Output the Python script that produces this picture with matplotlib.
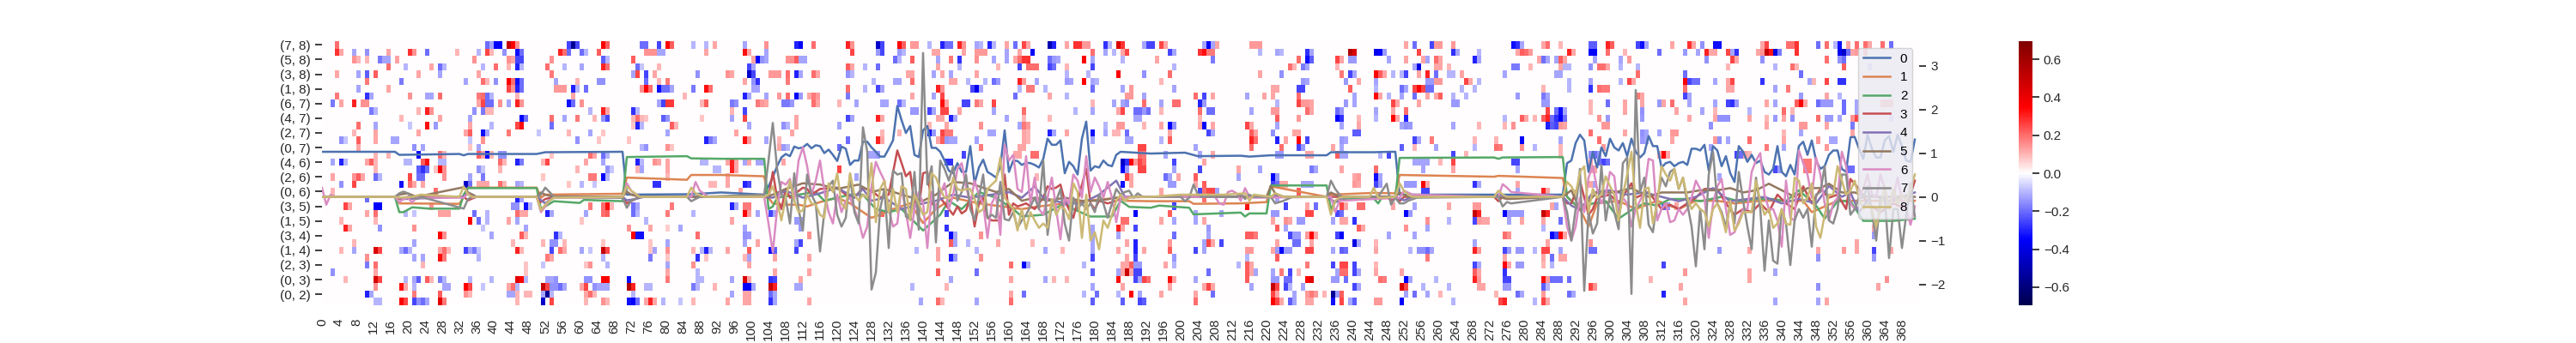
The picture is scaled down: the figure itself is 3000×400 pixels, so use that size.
import numpy as np
import matplotlib
matplotlib.use("Agg")
import matplotlib.pyplot as plt

plt.rcParams["font.family"] = ["Liberation Sans", "DejaVu Sans"]

row_labels = ["(7, 8)", "(5, 8)", "(3, 8)", "(1, 8)", "(6, 7)", "(4, 7)", "(2, 7)", "(0, 7)", "(4, 6)",
              "(2, 6)", "(0, 6)", "(3, 5)", "(1, 5)", "(3, 4)", "(1, 4)", "(2, 3)", "(0, 3)", "(0, 2)"]
n_rows = 36
n_cols = 372

# non zero cells of the heatmap, one dict per row: {column: value}
r00 = {3:.2,38:-.2,39:-.12,40:-.35,41:-.35,43:.5,44:.35,45:.15,57:-.25,58:-.55,59:-.25,65:.35,66:.22,74:-.2,75:-.2,78:-.25,80:.35,81:.22,86:-.1,89:-.1,91:.12,
       98:-.12,103:.15,110:-.3,111:-.35,114:.2,122:.3,123:.15,129:-.45,130:-.25,134:.35,135:.22,137:.14,138:.14,141:-.1,144:-.3,145:-.2,146:-.2,148:.3,149:.15,152:-.12,153:-.1,155:-.3,156:-.1,159:.12,161:-.2,163:.25,164:.12,169:-.5,170:-.3,173:.12,175:.28,176:.28,177:.14,178:.14,182:-.28,183:-.1,185:.45,186:.28,191:-.12,192:-.25,
       193:-.25,195:.25,196:.12,205:-.12,206:-.35,207:-.12,208:.12,216:.14,217:.14,218:.14,252:.12,254:-.2,258:-.25,259:.14,260:.14,263:.14,277:-.33,278:-.28,279:-.12,284:.12,285:.2,288:.1,
       295:-.22,296:-.22,299:.3,300:.22,306:-.25,307:-.33,308:-.12,314:.12,318:.28,319:.12,321:-.15,324:-.33,325:-.33,335:.12,336:.25,341:.2,342:.2,343:.28,348:-.2,350:.2,352:-.1,353:-.33,355:.12,357:.2,359:.2,360:.12,363:.2,365:-.2}
r01 = {3:.28,4:.12,7:-.12,10:-.15,15:.12,20:.28,21:.15,24:-.2,31:.1,36:-.1,38:.25,39:.1,42:-.15,45:-.33,46:-.2,55:.3,56:.2,57:-.2,60:-.2,61:-.1,64:.22,75:.15,76:.15,77:.15,78:-.12,79:-.12,89:.12,
       98:.33,99:.12,103:-.12,123:.25,129:-.14,130:-.25,134:-.14,135:-.1,142:.12,143:.12,149:.12,152:.14,153:.14,154:.14,159:-.12,162:.12,165:-.35,179:.2,182:-.12,184:-.1,186:.12,187:.25,
       197:-.25,198:-.12,204:.28,205:.33,206:.18,207:.18,218:-.1,222:-.12,223:-.1,229:-.28,230:-.12,239:.55,240:.45,245:-.38,246:-.35,247:-.14,255:.25,263:-.28,264:-.12,269:-.1,278:.12,279:.22,280:.2,281:.14,290:.3,291:.12,
       295:-.35,296:-.35,299:.2,303:.1,311:-.2,317:-.14,320:-.12,322:.3,323:.12,324:.12,327:.25,328:-.12,329:-.28,334:.12,335:.15,336:.5,337:.32,338:-.4,339:-.18,343:.28,353:-.38,354:-.45,355:-.2,356:.12,357:.14,359:.12}
r02 = {7:.15,8:.1,10:.1,13:-.18,14:-.12,15:-.12,17:.13,35:.15,43:.15,44:.12,45:-.25,46:-.25,53:.15,65:-.22,66:-.1,72:.22,
       100:.12,101:-.35,102:-.15,103:-.12,108:.15,109:.15,110:.22,111:-.12,112:-.12,133:-.2,134:-.1,137:.22,143:-.12,146:.18,148:-.28,152:.15,156:-.12,159:-.12,161:.12,162:.2,163:.28,164:.28,169:-.2,170:-.14,171:-.12,177:.35,179:-.12,186:-.1,
       194:.12,207:-.18,227:.2,229:-.33,230:-.22,236:.25,237:.12,239:-.14,240:-.14,248:-.12,252:.12,256:.12,257:-.12,259:.2,260:.12,268:-.3,269:-.12,283:.12,284:-.2,285:-.12,287:-.12,288:.22,289:.12,
       296:-.12,302:-.12,304:.14,322:-.15,328:.25,329:.12,335:-.15,350:.2,353:-.15,354:-.2}
r03 = {15:.2,19:-.1,25:.12,27:-.2,28:-.1,37:-.1,40:.2,43:.1,45:-.3,46:-.1,52:.2,56:-.1,60:-.12,65:.3,66:.2,73:-.2,74:-.08,78:.1,
       99:-.25,100:-.12,122:.22,123:.12,126:-.1,129:-.2,143:.12,148:-.1,157:.1,162:-.25,164:.2,165:.2,166:.2,169:-.25,170:-.2,173:.1,179:-.25,
       198:-.1,225:.2,226:.1,228:-.18,229:-.12,236:.1,254:-.12,255:-.4,259:.12,260:.12,262:.1,277:-.18,278:-.18,281:.1,288:.12,289:-.1,290:-.1,
       295:-.15,297:.2,298:.2,299:.12,302:-.1,306:-.1,327:.1,338:-.1,342:.2,343:.1,354:.22,360:-.06}
r04 = {3:.12,8:-.12,10:-.22,12:.22,22:.12,27:-.12,36:.12,53:.18,72:-.12,73:.25,75:-.25,77:.12,87:-.15,
       94:.15,95:.12,99:-.45,100:-.25,104:.14,105:.14,106:.14,108:.2,110:-.3,111:-.12,114:.2,115:.12,122:-.15,123:-.1,136:.12,137:.12,142:-.12,144:.12,146:-.12,152:.12,173:-.1,178:-.1,185:.35,191:-.15,
       197:.2,218:.12,223:-.15,237:.18,239:-.25,240:-.12,245:.35,246:.22,247:.12,249:-.1,251:-.1,252:-.25,255:.12,257:.3,259:-.2,262:-.1,263:-.1,265:.12,275:-.12,287:-.12,288:-.12,
       306:.2,317:-.2,344:-.2}
r05 = {10:.18,18:-.18,33:-.12,37:.2,38:.1,40:-.15,43:.35,44:.2,45:-.33,46:-.2,54:-.12,59:.1,64:-.15,65:-.15,75:-.2,78:.1,80:.18,
       98:.12,100:-.15,101:-.28,108:.18,128:-.1,133:-.12,134:-.12,137:.2,146:.12,147:.12,150:-.1,154:-.1,156:-.2,157:-.14,162:.3,163:.14,166:-.12,173:-.14,174:-.12,177:.35,179:-.12,180:-.1,
       195:.1,228:-.14,229:-.12,238:-.14,241:.12,245:-.12,257:-.14,258:-.14,259:.14,260:.14,266:.25,267:.12,269:-.1,290:-.1,
       295:-.12,302:-.1,304:.25,305:.12,317:.35,318:-.25,319:-.2,320:-.2,324:-.12,327:.12,328:.25,335:-.28,346:-.12,347:.1,350:.25,353:-.28,354:-.28}
r06 = {8:-.12,15:.12,43:.25,44:.15,45:-.3,46:-.2,54:.14,55:.14,56:.14,58:-.3,59:-.1,61:-.2,74:.15,75:.35,76:.2,78:-.33,79:-.2,80:-.2,81:-.12,86:-.18,89:.33,90:.2,
       100:-.12,101:-.12,122:.2,126:-.1,129:-.25,130:-.12,143:.3,144:.15,151:-.25,152:-.38,153:-.12,162:-.1,164:.18,165:.18,168:-.1,179:-.2,186:-.12,188:.14,
       198:-.12,221:.12,222:.12,227:-.25,228:-.25,239:.22,245:-.1,251:-.2,252:-.12,254:.25,255:.35,256:.25,257:-.2,258:-.2,265:-.1,268:-.1,284:.1,290:-.1,
       295:-.28,297:.2,298:.18,299:.18,317:.2,327:.12,328:.12,338:-.12,341:.18}
r07 = {3:.18,10:-.28,11:-.12,20:.15,24:-.12,25:-.12,27:.2,36:.18,37:.2,38:-.2,39:-.1,45:.1,58:.12,84:.1,
       98:-.3,99:-.12,103:-.12,106:.14,108:.2,110:-.35,111:-.14,113:.12,114:.18,115:.14,122:-.18,137:.12,142:-.12,144:.25,161:-.2,169:.12,173:-.1,187:.14,188:.14,191:-.12,
       203:.2,205:-.25,207:.12,215:-.12,219:.12,221:.12,227:.2,240:-.12,245:.35,246:.12,248:-.1,251:-.12,254:-.2,257:.12,259:.12,260:.22,263:-.1,266:-.1,278:-.14,284:-.18,285:-.12,
       306:.18,307:.12,317:-.25,318:-.12,344:-.14,350:.12,353:-.1}
r08 = {2:-.18,4:.12,7:.3,9:.15,10:.15,36:.12,37:.25,38:-.2,39:-.2,41:.15,43:-.12,45:.3,46:.15,57:-.33,58:-.2,60:.15,78:-.12,79:-.25,80:.27,81:.27,88:.1,89:.22,
       95:-.18,96:-.15,101:.18,102:.14,103:.12,107:-.18,108:-.18,109:-.14,114:.2,115:.12,120:.1,124:-.12,130:-.12,131:-.12,134:-.2,135:-.1,144:.33,145:.12,149:-.25,150:-.25,152:.18,153:.12,156:.25,179:.1,184:-.12,186:-.12,187:-.15,191:.2,
       195:-.12,198:.2,199:.2,204:-.3,205:-.14,222:-.1,227:.25,228:.14,229:.14,230:.12,238:-.14,240:-.12,249:.25,250:.12,255:.12,263:-.14,264:-.14,284:-.14,285:-.14,
       295:.1,299:-.2,303:.12,307:.12,311:-.14,312:.12,314:.2,318:-.12,324:-.12,327:-.25,328:-.28,329:-.14,336:.12,338:-.12,343:.22,344:.35,345:.12,348:-.2,349:-.14,350:-.14,351:-.14,354:-.2,357:-.12,363:.1,364:.1,365:.1}
r09 = {11:-.18,12:-.1,22:.1,24:.3,25:.15,35:-.15,37:-.18,38:.1,39:.1,62:-.1,65:.3,66:.12,72:-.28,73:-.1,
       95:.1,98:-.25,137:-.14,138:-.14,141:-.25,142:-.12,144:.25,145:.25,148:.12,156:-.12,163:.2,175:-.1,179:-.12,185:.12,186:.25,189:-.2,190:-.2,191:-.14,192:-.2,
       195:.1,204:.2,206:-.2,207:-.2,216:-.12,221:.14,222:.14,229:.2,230:.12,236:-.2,237:-.14,245:-.12,249:.12,252:.2,285:.25,287:-.2,288:-.33,289:-.12,
       295:.1,303:.12,307:-.15,315:.12,321:-.12,324:.1,332:-.1,340:.2,342:.1,354:-.2,357:-.12}
r10 = {18:.1,27:.12,34:-.12,46:-.35,47:-.2,53:.2,56:-.12,59:.18,63:.1,65:-.15,66:-.25,72:.1,73:.2,74:.1,75:.08,79:-.22,80:-.15,88:.08,
       95:-.12,98:.25,110:.12,122:-.25,123:-.12,129:.3,130:.12,143:.12,144:.12,146:-.3,147:-.12,159:-.12,163:.1,169:.1,189:-.12,190:-.12,
       204:.1,222:.22,227:.14,236:-.35,237:-.28,241:.1,245:-.1,249:.35,250:.12,252:-.3,275:-.1,279:.22,280:.12,282:.1,284:.22,285:.3,286:-.2,287:-.28,288:-.35,289:-.2,
       297:.15,299:-.14,307:-.14,318:.12,324:.12,325:-.15,326:-.15,327:-.15,332:.12,336:.1,338:-.14,340:.12,342:-.15,348:.2,350:-.14,351:-.14,353:-.12,356:.15,357:.25,365:-.06}
r11 = {8:.2,12:-.12,20:-.08,24:.33,26:-.14,34:.12,39:-.1,45:.25,46:.33,53:-.2,72:.08,73:-.3,74:-.1,81:.22,82:.1,
       99:-.12,107:-.15,108:-.1,110:.12,120:-.12,141:.1,145:.12,153:.15,162:-.12,163:.18,164:.14,182:-.1,185:.14,186:.14,191:.1,
       195:.12,197:-.35,198:-.15,204:.12,205:-.35,207:.12,215:.25,216:.12,222:-.12,237:-.12,241:.12,251:-.12,252:-.15,253:-.14,263:-.12,269:.1,275:.1,277:.15,285:-.3,286:-.22,287:-.25,288:.14,289:.12,
       298:.14,299:.14,323:-.15,336:.12,344:.14,345:.14,350:.12,356:-.18}
r12 = {7:.1,12:.12,22:.12,33:.12,34:.22,37:-.33,38:-.12,43:.18,50:-.08,57:.1,62:-.12,65:.08,80:-.12,
       96:.12,109:.12,130:.1,134:.1,141:-.33,142:-.14,144:.25,145:.18,146:.18,155:-.12,156:-.12,163:.12,164:.1,169:-.3,170:-.12,173:.12,179:-.33,182:-.12,184:.1,185:.1,187:-.2,
       197:.12,206:-.25,207:-.12,216:.22,217:.12,221:-.15,226:.12,227:.12,240:-.22,241:-.22,
       295:.2,303:.12,307:-.15,308:-.12,311:-.12,314:.14,315:.14,340:.1,344:-.12,356:.12}
r13 = {4:-.15,5:-.08,8:.22,12:.12,16:-.12,17:-.12,34:-.08,37:.15,59:-.15,64:.08,71:.08,89:-.3,90:-.18,91:-.12,
       98:.33,99:.14,103:-.12,106:.1,122:-.2,129:.3,130:.12,143:.12,144:.22,145:-.14,146:-.12,147:-.12,152:-.12,163:.12,164:.1,179:-.12,187:-.12,188:-.12,
       195:-.1,197:.22,216:.3,217:.2,222:-.3,224:.12,227:.35,229:-.25,237:-.14,238:-.12,254:-.25,255:-.12,258:.18,268:.1,273:.1,279:-.35,288:-.12,
       297:.2,307:-.14,308:-.12,314:.12,324:.14,325:-.15,327:-.12,332:.2,340:.12,348:.14,351:-.12,352:-.12}
r14 = {8:.12,21:-.15,23:-.12,34:.08,36:-.12,74:-.1,75:-.15,80:.15,81:.08,
       106:.12,107:-.14,108:-.1,120:-.2,153:.18,162:.12,163:.12,190:.25,191:.25,
       203:-.12,216:.2,223:.2,227:-.25,228:-.14,235:.12,237:-.12,251:-.22,254:.1,259:-.12,268:-.1,273:.2,274:.18,279:.15,282:-.1,288:.1,
       298:.14,323:-.12,336:.18,340:-.12,350:.14}
r15 = {12:.1,15:.1,22:-.35,27:.2,28:.1,36:.22,37:.12,38:-.35,39:.1,41:-.15,42:-.15,53:.08,62:.2,63:.12,65:-.2,66:-.1,
       127:-.12,128:-.12,129:-.14,149:-.25,161:.12,162:.12,165:.2,166:.2,190:.2,191:.18,
       196:-.12,204:-.12,207:.12,222:-.14,223:-.14,229:.12,230:.12,236:.22,237:-.12,238:-.12,246:-.1,248:-.25,263:-.25,266:.1,288:.1,
       295:-.15,296:-.2,297:-.14,311:.12,312:.35,313:.12,329:-.25,330:-.2,331:.12,332:.1}
r16 = {2:-.12,4:-.3,5:-.1,10:.12,11:.22,12:.1,19:-.1,20:-.1,23:.22,24:.33,27:-.1,28:-.1,41:.2,42:.1,45:-.3,46:-.18,51:.1,52:.25,61:.12,65:-.12,73:-.3,74:-.1,77:.15,78:.12,80:.12,88:-.1,89:-.1,
       94:.12,95:.3,96:.12,98:-.12,99:.12,101:-.12,102:-.12,107:.12,145:-.28,146:-.28,186:-.45,187:-.28,188:.35,189:.14,190:.25,191:.2,
       198:-.25,205:.12,254:-.12,255:-.12,256:-.12,257:-.12,260:.1,263:.25,277:-.25,278:-.25,
       295:.12,297:-.2,298:-.25,299:-.2,345:.18,346:.18}
r17 = {12:.1,22:-.22,23:-.28,24:-.2,26:.08,27:.35,28:.15,36:-.15,37:-.08,41:.1,59:.1,66:-.15,67:-.08,73:.1,74:-.12,80:.12,91:-.1,92:-.1,
       95:.3,96:.12,120:.25,186:-.35,187:-.14,190:.25,191:.25,
       198:-.12,204:-.25,213:.12,218:-.12,230:-.18,231:-.12,237:.12,245:.2,256:-.12,263:.12,278:-.12,
       295:.12,296:.12,338:-.25,339:-.14,345:.18,346:.18,355:-.2,356:-.2}
r18 = {2:.12,7:.15,8:.22,9:.12,12:-.2,13:-.1,20:.25,22:-.2,23:-.2,28:.15,34:-.12,37:-.18,51:.08,62:.18,63:.18,65:-.35,66:-.1,80:.1,
       94:.12,124:-.12,166:.1,187:.25,188:.12,
       196:-.2,197:-.12,199:.12,203:.22,213:-.12,221:-.35,222:-.14,240:.12,241:.14,245:-.33,246:-.12,
       325:-.12}
r19 = {4:-.15,7:.25,18:-.33,20:.2,21:.12,23:.12,33:-.45,34:-.2,36:.12,37:.12,38:.12,41:.2,42:.1,45:-.12,46:-.1,57:.08,60:-.1,63:-.08,77:-.28,78:-.28,90:.1,91:.1,
       94:.12,98:-.3,99:-.25,186:-.33,188:.12,
       197:-.14,198:-.14,203:.12,205:.22,221:-.25,222:-.2,223:.12,224:.12,228:-.12,229:-.12,230:-.12,240:.14,241:.12,245:-.25,246:-.14,252:-.14,253:-.14,254:-.14,256:.35,257:.12,268:-.28,269:-.12,278:.12,
       295:.12,296:-.12}
r20 = {2:.1,26:.2,97:.12,195:.12,204:-.25,205:.2,206:.25,207:.25,208:-.12,227:.22,256:-.25,257:-.25,278:-.12,284:.3,285:.12}
r21 = {10:-.2,45:-.3,46:-.12,205:.2,222:-.12}
r22 = {5:.25,6:.12,12:-.35,13:-.35,25:.15,44:-.15,45:-.15,47:-.33,48:-.1,62:.18,65:.2,66:.33,67:.1,72:-.2,73:-.12,81:.18,
       95:-.3,96:-.12,98:.18,99:.18,
       198:-.25,215:.33,224:-.25,229:.12,231:-.2,237:.25,238:.12,241:.2,242:.2,249:.12,254:-.12,262:.12,268:.14,269:.14,286:.12,287:-.12,
       312:-.22,313:-.14,315:.12}
r23 = {10:.12,12:.2,19:-.1,21:-.08,27:.13,28:.13,29:.13,35:-.2,38:-.1,45:.2,46:.12,47:.12,52:-.3,53:-.12,61:-.12,65:.2,66:.22,72:-.2,73:-.1,80:.18,86:-.1,
       98:.35,99:.14,101:-.12,104:-.25,105:-.12,130:.22,145:-.25,189:-.35,
       197:.22,203:-.12,209:-.12,221:-.14,222:-.14,229:.25,230:.25,236:-.25,237:-.2,252:-.35,253:-.14,268:.5,269:.3,275:-.35,276:-.14,277:-.14,278:-.14,279:-.14,284:.5,285:.3}
r24 = {4:.1,12:.1,34:.35,36:-.2,38:-.1,43:.12,45:-.12,60:.08,75:-.1,
       95:.12,110:-.14,111:-.14,186:.2,187:.2,
       195:.12,198:-.12,203:-.12,205:.12,221:.12,224:.15,225:.12,227:-.14,228:-.14,235:-.12,237:.12,238:.12,240:-.28,257:.15,262:-.1,268:-.25,269:.14,270:.12,271:.12,276:-.12,279:.12,284:.12,288:-.2}
r25 = {5:.3,6:.12,13:-.15,21:.15,37:-.08,47:-.12,71:.15,76:.12,80:.07,83:-.12,
       98:-.12,111:-.14,145:-.28,179:-.12,185:.3,186:.12,189:-.25,
       206:-.14,222:.22,224:-.12,241:.22,242:.12,252:.15,257:-.12,284:-.1,361:.12}
r26 = {27:.35,28:.15,39:-.12,46:.22,47:.1,54:-.28,55:-.1,72:.35,73:-.33,74:-.33,87:.2,
       98:-.15,99:-.14,113:.15,146:-.35,147:-.12,153:.15,179:-.12,185:-.12,
       198:-.2,206:-.12,215:.22,216:.22,217:.18,225:-.25,226:-.14,227:-.14,229:.14,230:.35,231:.12,236:-.25,237:-.35,248:-.12,254:-.12,275:.2,276:.15,286:-.35,287:-.25,288:.35,289:.12,361:-.14}
r27 = {7:.1,21:-.12,44:.1,51:.1,53:-.15,54:-.15,56:.1,65:.08,76:.08,80:-.12,
       98:-.12,101:.12,110:-.12,111:-.25,146:.22,147:-.12,150:-.1,157:.12,165:.1,179:-.12,187:.12,189:-.3,
       197:.14,205:-.12,206:.25,207:.12,209:-.25,222:.12,226:-.2,227:-.2,230:.12,240:-.4,241:-.12,245:.1,268:-.12,285:.12,
       295:.15,357:.12}
r28 = {4:.1,7:-.12,12:.45,13:.25,18:-.12,19:-.2,20:-.1,27:.12,28:.2,29:.1,33:-.25,34:-.12,35:-.18,36:-.08,45:.3,46:.1,53:-.25,55:.2,56:.12,60:-.12,62:-.08,65:.5,66:.25,76:.08,77:-.12,80:.15,86:.1,88:-.1,89:-.3,90:-.1,
       94:.12,99:.22,104:-.33,105:-.22,110:-.25,138:-.1,143:.12,152:-.1,168:-.12,172:.1,179:-.12,185:.12,189:-.3,191:.12,
       197:.22,203:-.25,205:-.12,215:.14,216:.14,221:.12,222:-.14,223:-.35,224:-.14,225:-.14,229:.25,230:.25,235:-.12,237:-.22,238:-.2,245:.12,253:-.1,255:-.15,256:-.15,257:-.2,258:-.12,268:.3,269:.14,275:-.25,276:-.14,278:-.14,279:-.14,282:-.1,284:.25,285:.25,288:-.12,
       295:-.2,296:-.2,325:-.14,332:.12,348:.12,354:.14,357:.12,361:-.25,365:.12}
r29 = {10:.15,21:-.12,23:-.12,27:.33,28:.18,36:-.1,52:.18,53:.12,65:-.1,76:-.18,80:.08,87:-.28,89:.08,
       98:.1,99:-.12,105:.12,113:.12,143:.12,146:-.3,147:-.14,153:.15,179:-.25,187:.12,189:-.25,
       198:-.14,215:-.1,222:.22,257:.18,275:.12,284:.12,286:-.2,288:.12,289:.12,348:-.15,361:-.14}
r30 = {10:-.18,12:.2,23:.1,47:.08,51:-.08,61:.08,62:.15,66:-.1,80:-.12,86:.15,
       99:.12,160:.2,163:-.35,164:-.12,177:-.1,186:.12,187:.12,188:.22,189:-.14,190:-.14,
       196:.12,198:-.1,213:-.1,215:.22,216:.12,229:.18,235:-.25,237:.25,238:.25,240:-.25,245:.1,268:-.25,269:-.12,275:.35,276:.12,278:-.14,279:-.14,284:.1,286:-.1,
       312:-.25}
r31 = {2:-.15,12:.12,47:.08,80:.12,87:-.1,
       105:.12,113:.12,143:.22,152:-.2,179:-.22,185:-.12,186:.12,187:.48,188:.12,189:-.25,190:-.25,
       206:-.2,215:.22,216:.12,217:-.12,221:-.12,223:.18,225:-.25,227:.1,236:-.12,237:.2,238:.2,240:-.25,241:-.12,245:.12,251:.12,268:.22,269:.12,275:-.28,
       317:.14,332:.12,338:-.12}
r32 = {5:.1,12:.45,13:.25,19:-.1,21:-.12,22:-.22,24:.22,25:.1,27:-.18,28:-.1,34:-.1,39:-.1,45:.42,46:.35,47:-.1,52:-.12,53:-.12,54:-.15,61:-.15,62:-.15,65:.35,66:.35,71:-.33,80:.18,87:-.1,88:-.1,
       95:-.12,98:.45,99:.12,104:-.28,105:-.25,111:.12,146:-.12,160:.12,168:-.12,170:.1,173:.1,185:.33,189:-.25,190:-.12,191:.25,192:.2,
       197:.33,198:.12,203:-.12,215:.22,221:-.14,222:-.14,224:-.2,225:-.2,229:.35,230:.42,235:-.14,236:-.14,238:-.2,246:.2,247:.18,252:-.35,253:-.12,259:-.1,268:.3,269:.14,275:-.25,276:-.25,284:.33,285:.14,286:-.2,287:-.2,288:-.2,290:-.2,
       309:.1,332:.12,364:.15}
r33 = {12:.15,18:.33,19:.12,21:-.1,28:-.12,29:-.12,33:.35,34:.25,37:-.08,43:.12,44:.2,45:-.1,51:.5,52:.25,53:-.15,54:-.15,55:-.2,56:-.12,60:.12,61:.25,63:-.15,64:-.12,65:-.12,66:-.12,71:.55,72:.3,75:-.1,76:-.1,86:-.18,87:-.1,91:.1,
       98:-.35,99:-.35,100:-.12,104:.5,105:.3,110:-.12,111:-.12,137:-.1,145:.1,179:-.12,186:.12,
       197:.12,205:.12,206:.25,207:.12,216:-.12,221:.5,222:.25,224:-.25,225:-.1,228:-.12,240:-.25,241:-.12,251:.45,252:.25,256:-.1,262:-.1,269:.12,270:.12,275:-.14,276:-.14,284:-.22,285:-.1,
       295:.25,296:.15,316:.12,348:-.15,362:.12}
r34 = {10:-.3,11:-.12,21:.18,27:.22,33:.15,34:.1,43:-.12,44:-.12,45:.1,47:.1,48:.1,51:-.12,52:-.55,53:-.1,61:.12,62:.2,63:.1,72:-.1,
       95:-.12,98:.12,99:.12,104:-.2,105:-.12,160:.12,163:-.2,177:-.1,180:-.2,185:-.1,188:.35,190:-.12,
       195:.12,203:.12,207:-.2,221:.25,222:.12,226:-.12,229:.14,230:.18,231:.14,233:.1,235:-.55,236:-.14,237:.22,252:-.12,254:-.2,257:-.12,260:.1,273:.1,278:-.2,279:-.12,284:.14,290:-.2,291:-.12,
       312:-.3}
r35 = {12:-.1,13:-.1,18:.35,19:.25,21:-.25,22:-.15,23:-.2,24:-.12,27:.42,28:.18,45:.1,51:-.45,53:.25,61:.1,65:.15,66:.1,71:-.33,72:-.35,73:-.2,75:.12,76:.3,77:.12,79:-.1,83:-.08,86:.1,
       94:.12,98:.12,99:.12,104:-.28,105:-.12,113:.12,139:-.12,143:.2,144:.1,152:-.12,160:.2,179:-.22,186:-.22,190:-.25,191:-.22,
       203:.2,221:.35,222:.25,223:.12,225:-.22,226:-.12,229:.12,230:.12,235:-.33,237:.25,239:-.12,240:-.22,245:.14,246:.14,251:-.35,263:-.1,274:.25,275:.3,282:-.1,284:.25,285:.12,
       317:.12,338:-.12,348:-.12,350:.12}

# line series: sparse knots in the calm parts, every column in the busy parts
line0_x = [0,17,18,32,33,34,50,52,70,71,86,93,103] + list(range(104,187)) + [193,201,204,214,216,221,234,235,245,249,250,251,289,290,291,292] + list(range(293,372))
line0_y = [1.03,1.03,.96,.98,.95,.98,.98,1.02,1.03,.05,.06,.1,.05,
           .24,.45,.7,.9,.98,.93,1.15,1.11,1.13,1.21,1.11,1.18,1.16,1.0,1.08,.96,.82,1.15,1.1,.73,.83,.83,1.26,1.26,1.13,1.03,.92,.92,1.1,1.29,2.08,1.75,1.46,1.62,.96,.91,1.52,1.62,1.12,1.12,1.03,.83,.6,.54,.77,.57,.57,1.16,.31,.67,.85,.57,.51,.44,.7,1.52,.57,.83,.82,.73,.78,.77,.73,.67,.87,1.33,1.19,1.19,1.29,.54,.8,.7,.51,1.33,1.72,.6,.7,.67,.83,.73,.7,.96,1.03,
           .99,1.01,.93,.94,.92,.95,.95,1.02,1.02,1.03,1.03,.05,.05,.77,.83,1.23,
           1.42,1.29,.57,1.03,.67,1.13,.93,1.33,1.13,1.06,1.23,.93,1.33,1.03,.9,1,1.39,1.16,1.16,.67,.77,.8,.7,.77,.8,.73,1.1,1.1,1.06,1.19,.6,1.16,1.06,.7,.93,.54,.34,1.16,1.03,.8,.96,.77,.83,.57,.51,.64,1.16,.57,.47,.73,.51,1.16,1.26,.96,1.29,.83,.64,.7,.96,1.06,1.06,.64,.57,1.36,1.37,1.1,.87,1.42,1.1,.9,.9,1.29,1.39,1.03,1.42,1.16,.83,.8,1.31]
line1_x = [0,17,18,32,33,34,50,51,52,70,71,85,86,93,103,104,105,107,111,113,116,120,123,128,130,133,137,140,143,147,153,163,167,173,178,186,187,193,202,203,214,220,221,234,235,245,250,251,273,274,289,290,293,295,297,302,306,311,316,320,325,329,335,339,345,347,353,371]
line1_y = [0,0,-.15,-.16,0,.21,.21,-.02,.05,.07,.44,.39,.5,.5,.47,-.02,-.15,-.18,-.18,-.22,-.12,-.02,-.15,-.48,-.41,-.28,-.15,-.6,-.28,-.02,-.15,-.28,-.22,-.15,-.09,-.02,-.09,-.1,-.1,-.16,-.15,-.12,.24,0,.05,.09,.08,.5,.46,.48,.43,0,-.28,-.68,-.15,-.09,-.28,-.09,-.28,-.09,-.09,-.15,-.09,-.09,-.09,-.35,-.09,-.09]
line2_x = [0,17,18,19,21,25,32,33,34,50,51,52,54,60,61,70,71,85,86,93,103,104,105,106,111,115,117,123,126,129,132,135,140,144,146,149,153,157,161,163,168,173,175,179,184,186,188,193,195,202,203,214,215,216,220,221,234,235,236,239,245,246,247,250,251,273,274,275,289,290,293,296,299,302,305,308,311,314,318,321,326,330,334,338,341,344,348,350,353,356,359,362,366,371]
line2_y = [0,0,-.35,-.35,-.24,-.27,-.27,.05,.2,.2,-.28,-.22,-.1,-.14,-.07,-.1,.91,.93,.88,.87,.87,-.28,-.22,-.02,.05,.11,-.09,.05,.05,-.28,-.35,-.28,-.77,-.41,-.09,-.28,.11,-.02,-.28,-.45,-.41,-.15,-.28,-.45,-.45,-.09,-.23,-.25,-.2,-.25,-.4,-.36,-.45,-.38,-.38,.26,.26,-.28,-.12,-.04,-.04,-.15,0,-.02,.89,.9,.87,.9,.91,0,-.28,-.15,-.1,-.5,-.3,-.15,-.2,-.05,-.05,-.1,0,-.1,-.05,-.05,-.1,.15,-.2,-.5,-.1,-.1,-.55,-.55,-.55,-.5]
line3_x = [0,17,18,20,33,34,36,50,51,52,54,70,71,72,74,103,104,105,106,107,108,109,112,113,114,116,120,122,124,126,128,130,132,134,135,136,137,138,139,140,141,142,143,144,145,146,147,148,149,150,151,152,153,154,155,156,158,159,160,161,162,164,166,168,169,170,171,172,173,175,176,178,179,180,181,183,185,187,193,248,249,250,251,252,273,274,275,289,290,291,293,294,295,296,297,300,302,305,306,309,311,312,314,316,318,320,322,325,327,329,331,333,335,337,339,341,343,345,347,349,351,353,355,356,358,360,363,366,369,371]
line3_y = [0,0,-.05,0,0,-.08,0,0,-.12,-.05,0,0,-.15,-.1,0,0,-.02,.57,-.02,-.28,.18,-.02,.21,.18,.05,.18,.21,.05,-.02,.21,.14,-.02,.05,1.06,.77,.47,.57,-.15,-.28,.54,.57,-.15,-.22,-.02,-.15,-.28,-.41,-.22,-.38,-.31,-.02,-.68,-.15,-.02,-.48,-.54,-.54,.51,-.41,-.15,-.22,-.15,-.28,-.02,.24,.18,.21,.28,-.09,-.48,-.09,.64,-.15,-.28,-.09,-.15,-.09,0,0,0,-.08,-.02,-.1,0,0,-.1,0,0,-.15,-.15,.37,-.02,-.41,-.28,-.02,.05,-.15,.31,-.02,.11,-.15,-.28,-.18,-.28,-.15,-.02,.18,.18,-.15,-.41,-.28,-.35,-.15,-.35,.05,-.15,-.28,.24,-.15,.18,-.02,.05,-.28,.41,.18,-.15,-.35,-.15,-.28,.37]
line4_x = [0,17,19,33,34,36,50,52,54,70,71,73,75,103,105,108,112,116,120,124,126,128,131,135,140,143,147,151,156,160,163,166,168,173,177,181,185,187,193,221,222,224,234,236,238,250,252,254,289,291,293,296,300,304,308,312,316,320,324,328,332,336,340,344,348,351,354,356,358,361,365,371]
line4_y = [0,0,-.05,0,.1,0,0,-.15,0,0,-.08,-.05,0,0,-.02,.14,-.02,.08,.21,-.02,.18,-.09,-.02,-.28,-.15,-.09,.05,-.02,.05,.11,-.02,.24,-.02,-.15,-.15,.05,.37,0,0,0,.05,0,0,-.12,0,0,-.08,0,0,-.2,-.3,.1,.15,.05,.1,0,-.1,0,.2,-.1,-.05,0,-.15,-.05,-.15,.25,0,.1,-.35,.05,-.1,.1]
line5_x = [0,17,18,20,22,33,34,36,50,51,52,54,70,71,72,74,103,105,108,112,116,120,125,128,131,135,140,143,147,151,153,157,160,163,166,169,173,177,181,185,193,220,221,222,224,234,235,237,250,251,253,274,276,289,291,293,297,301,305,309,312,315,318,321,325,328,331,334,337,340,343,346,349,351,354,357,360,365,371]
line5_y = [0,0,.05,.08,0,.22,.1,0,0,.1,.05,0,0,.12,.05,0,0,.05,.18,.31,.28,.18,.28,.11,.18,.05,-.09,.05,.34,.31,.24,.11,.18,-.09,-.02,-.09,-.02,-.09,-.09,-.02,0,0,.25,.08,0,0,.1,0,0,.1,0,0,-.05,0,.15,-.3,.1,.1,.2,0,.1,.1,.1,.15,.15,.2,.1,.15,.3,.15,0,.2,.2,.3,.1,.1,0,0,0]
line6_x = [0,1,2,3,17,18,19,20,21,22,33,34,35,36,50,51,52,53,54,70,71,72,74,86,87,88,90,103] + list(range(104,188)) + [193,208,209,210,211,212,213,214,215,216,217,235,236,237,251,252,254,273,274,275,276,277,289] + list(range(290,372))
line6_y = [.21,-.18,.05,0,0,-.12,-.05,-.02,-.13,-.02,-.02,.08,-.02,0,0,-.35,-.22,-.09,-.02,-.02,.31,.14,0,0,.34,.14,0,0,
           -.61,-1.27,-.28,.34,.28,.41,-.09,.83,1.13,.7,.05,.37,.83,.14,-.35,-.61,.05,-.35,-.09,-.02,-.28,-.54,-.94,-.68,.24,.8,.57,.37,-.28,-.68,-.61,.24,-.35,-.94,-.28,.11,-.15,-1.17,.11,-.28,.05,.31,-.28,.05,.64,.77,.24,-.15,.37,.05,-.15,-.94,-.15,.05,-.87,1.19,.83,.96,.18,.11,.93,-.15,.44,-.28,-.41,-.02,.44,-.28,-.97,-.02,-.15,.51,.37,-.02,.93,.11,.44,.24,-.02,.34,-.02,-.58,-.02,0,
           0,0,-.15,-.18,.11,.14,.08,-.09,.2,0,-.02,0,-.35,-.09,-.02,.14,.05,0,0,.29,.21,.11,0,
           -.68,-1,-.68,-.02,-.35,.44,.7,.18,-.15,.05,.57,.47,-.41,-.02,-.15,-.68,-.28,-.09,.11,.87,.83,-.54,-.28,-.15,-.58,-.54,-.28,-.41,-.28,-.02,.37,.18,-.02,-.94,-.15,.24,.41,-.28,-.87,-.81,-.54,-.28,-.28,.57,.83,1,.05,-.28,-.28,-.54,-1.14,.37,-.48,-.54,1.06,.77,.51,-.02,.9,.51,-.15,-.54,-.15,-.02,1.03,.7,-.15,-.28,-.02,.18,.51,.05,-.02,.51,.18,-.28,-.02,.44,-.09,-.28,-.64,-.22]
line7_x = [0,17,18,19,20,21,22,23,33,34,35,36,50,51,52,53,54,70,71,72,74,85,86,87,88,103] + list(range(104,193)) + [193,200,201,202,203,204,205,213,214,215,216,217,221,222,224,226,234,235,236,237,238,239,245,246,248,249,250,251,252,253,255,273,274,275,276,277,289] + list(range(290,372))
line7_y = [0,0,.08,.12,.08,-.02,-.05,0,-.27,-.05,0,0,0,.05,.21,.11,0,-.02,-.25,-.09,0,0,-.1,-.05,0,.05,
           .83,1.69,.64,.05,-.02,-.61,.54,-.28,-.77,.51,.05,-.15,-1.25,-.35,.24,.37,-.41,-.68,-.48,.51,-.35,-.61,1.59,1.03,-2.12,-1.73,-.28,.18,-1.17,.6,.51,.54,-.45,-.51,.57,-.75,3.29,.28,.7,-1.04,.83,.64,.37,.7,-.09,.11,.51,-.28,-.54,-.02,.51,-.48,-.41,-.48,.34,-.51,-.54,-.35,-.71,-.54,-.41,-.22,-.02,-.28,.83,-.87,-.15,-.09,.18,-.61,-1.0,-.02,-.28,-.15,-.28,-.15,-.35,.05,-.15,-.48,-.15,.18,.05,.11,.14,-.02,.08,.01,0,
           0,0,-.1,-.02,.28,.05,0,0,.05,-.05,.05,0,0,-.15,-.09,0,0,.37,.18,.05,-.05,0,0,0,.3,-.18,-.02,-.15,-.15,-.09,-.02,0,0,-.22,-.12,-.15,0,
           -.35,-1,-.28,.64,-2.15,-.35,-.84,-.61,.73,-.54,.05,-.35,-.74,.77,.9,-2.22,2.44,.11,.44,-.64,-.81,-.05,.44,.24,.57,.64,.18,.44,-.15,-.68,-1.59,-.28,-1.2,.51,1.03,-.15,-.35,-.68,-.18,-.61,.57,-.09,-.68,-1.2,.44,-.28,-1.69,-.54,-1.46,-1.53,-.28,-.61,-1.56,-.54,-.28,-.48,-.28,-1.14,.05,.11,.7,-.54,-.61,-.28,.51,.51,-.41,-.28,-.02,-.02,.24,-.35,-1,-.02,-.02,-1.4,-.28,-.28,-1.17,-.41,.31,-.45]
line8_x = [0,17,18,21,23,32,33,34,35,50,51,52,53,54,70,71,72,74,85,86,87,89,103] + list(range(104,190)) + [193,200,210,215,216,217,221,222,224,234,235,236,237,238,244,245,246,247,250,251,252,253,254,273,274,275,276,289] + list(range(290,372))
line8_y = [0,0,-.02,0,.05,0,.24,.05,0,0,-.31,-.18,-.09,-.02,0,.24,.14,0,0,.21,.08,0,0,
           .05,.24,-.09,-.54,-.02,.37,-.09,-.35,-.31,.05,-.15,-.18,-.41,-.48,.31,.11,.54,-.15,-.28,.54,.05,-.09,.05,-.02,.77,-.58,.18,.37,-.35,.18,-.35,.24,.18,-.54,.05,-.15,-.41,-.35,.54,.44,.18,-.02,-.02,.44,.18,.14,.18,.18,-.05,-.35,-.28,.18,.28,.37,.9,-.02,-.15,-.28,-.77,-.28,-.74,-.35,-.54,-.71,-.61,-.71,-.05,-.41,-.22,-.28,-.51,.31,.11,-.94,.05,-1.0,-.81,-1.2,-.54,-.71,-.41,-.09,.05,-.09,-.02,0,
           0,.05,.05,.08,-.09,.05,0,.08,0,0,-.41,-.09,-.02,0,0,.21,-.02,-.02,0,.31,.14,.05,0,0,.14,.05,0,0,
           .34,.24,.05,.57,.7,-.35,.18,-.02,.05,.47,.24,.05,-.54,.05,.51,1.03,-.15,-.71,.18,.21,-.61,-.15,.7,.51,.37,.64,.18,.44,-.02,-.28,-.15,-.28,-.35,-.68,-.28,-.15,-.41,-.81,-.09,-.77,-.61,-.35,-.35,-.35,.37,-.09,-.41,-.28,-.71,-.61,-.28,-.61,-.64,.44,.37,-.15,-.02,.31,-.68,-.94,-.41,.05,.05,.7,.37,.05,.14,.37,-.02,-.28,-.15,-.28,-.68,-.28,.24,-.28,.18,-.15,.05,-.09,.18,.51]

cbar_ticks = [-.6, -.4, -.2, 0, .2, .4, .6]
line_y_ticks = [-2, -1, 0, 1, 2, 3]
line_colors = ["#4C72B0", "#DD8452", "#55A868", "#C44E52", "#8172B3", "#937860", "#DA8BC3", "#8C8C8C", "#CCB974"]

rows = [r00, r01, r02, r03, r04, r05, r06, r07, r08, r09, r10, r11, r12, r13, r14, r15, r16, r17,
        r18, r19, r20, r21, r22, r23, r24, r25, r26, r27, r28, r29, r30, r31, r32, r33, r34, r35]
heat = np.zeros((n_rows, n_cols))
for i, row in enumerate(rows):
    for col, val in row.items():
        heat[i, col] = val

fig, ax = plt.subplots(figsize=(30, 4), dpi=100)
mesh = ax.pcolormesh(heat, cmap="seismic", vmin=-.695, vmax=.695, rasterized=True)
ax.set_xlim(0, n_cols)
ax.set_ylim(n_rows, 0)
ax.set_yticks(np.arange(0, n_rows, 2) + .5)
ax.set_yticklabels(row_labels, fontsize=11, color=".15")
ax.set_xticks(np.arange(0, n_cols, 4))
ax.set_xticklabels([str(k) for k in range(0, n_cols, 4)], rotation=90, fontsize=11, color=".15")
ax.tick_params(axis="y", length=6, width=1.25, color=".15")
ax.tick_params(axis="x", length=0, pad=11.5)
for spine in ax.spines.values():
    spine.set_visible(False)

cbar = fig.colorbar(mesh, ax=ax, fraction=.15, pad=.05, aspect=20)
cbar.set_ticks(cbar_ticks)
cbar.ax.tick_params(length=6, width=1.25, color=".15", labelsize=11, labelcolor=".15")
cbar.outline.set_visible(False)

ax2 = ax.twinx()
lines_x = [line0_x, line1_x, line2_x, line3_x, line4_x, line5_x, line6_x, line7_x, line8_x]
lines_y = [line0_y, line1_y, line2_y, line3_y, line4_y, line5_y, line6_y, line7_y, line8_y]
for i in range(9):
    ax2.plot(lines_x[i], lines_y[i], color=line_colors[i], lw=1.8, label=str(i))
ax2.set_ylim(-2.48, 3.56)
ax2.set_yticks(line_y_ticks)
ax2.tick_params(axis="y", length=6, width=1.25, color=".15", labelsize=11, labelcolor=".15")
for spine in ax2.spines.values():
    spine.set_visible(False)
ax2.legend(loc="upper right", fontsize=11, facecolor="#EAEAF2", edgecolor=".8", framealpha=.8)

plt.savefig("out.png", dpi=100)
